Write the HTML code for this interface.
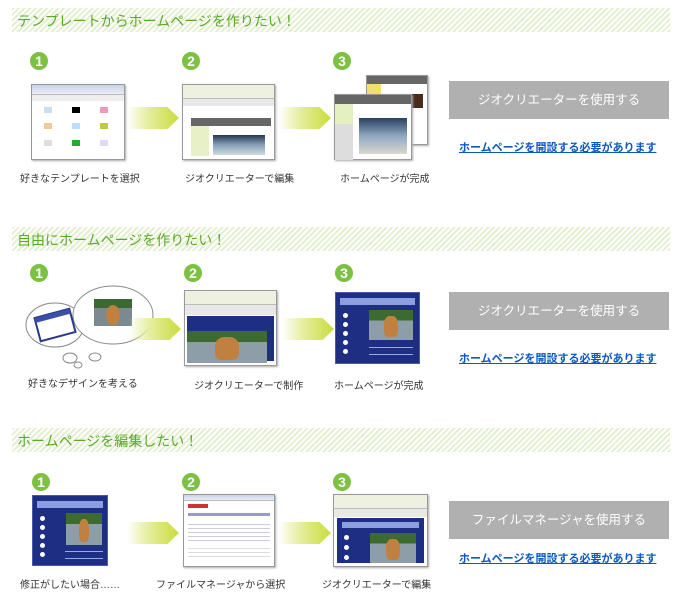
<!DOCTYPE html>
<html><head><meta charset="utf-8"><style>
*{margin:0;padding:0;box-sizing:border-box}
body{width:700px;height:615px;background:#fff;position:relative;overflow:hidden;font-family:"Liberation Sans","Noto Sans CJK JP",sans-serif}
.a{position:absolute}
.band{position:absolute;left:12px;width:658px;height:24px;background:repeating-linear-gradient(135deg,#e3efcf 0 2px,#fff 2px 4px)}
.band span{position:absolute;left:5px;top:3px;font-size:14px;color:#5aa92a}
.num{position:absolute;width:18px;height:18px;border-radius:50%;background:#7cc141;color:#fff;font-weight:bold;font-size:14px;line-height:18px;text-align:center}
.arr{position:absolute;width:52px;height:22px;background:linear-gradient(90deg,rgba(220,232,160,0) 0%,#e6eea0 40%,#c9dc3c 100%);clip-path:polygon(0 0,78% 0,100% 50%,78% 100%,0 100%)}
.lbl{position:absolute;font-size:10px;color:#333;white-space:nowrap}
.btn{position:absolute;left:449px;width:220px;height:38px;background:#b0b0b0;color:#fff;font-size:12.5px;line-height:38px;text-align:center}
.lnk{position:absolute;left:459px;font-size:11px;font-weight:bold;color:#0a58c0;text-decoration:underline;white-space:nowrap}
.win{position:absolute;border:1px solid #999;background:#fff;box-shadow:1px 1px 2px #aaa}
.win .tb{height:10px;background:linear-gradient(#c8d4e8,#e8ecf4);border-bottom:1px solid #bbb}
.blue{position:absolute;background:#1e2e82;border:1px solid #4a5aa8}
.nav{position:absolute;left:4px;right:4px;top:5px;height:7px;background:#8a9ee0}
.dot{position:absolute;width:5px;height:5px;border-radius:50%;background:#fff;left:7px}
.dog{position:absolute;background:linear-gradient(#3c6a30 0 35%,#8e9ea8 35%);}
.dog::after{content:"";position:absolute;left:35%;top:20%;width:30%;height:70%;background:#c08040;border-radius:40% 40% 30% 30%}
.hl{position:absolute;height:1px;background:#9aa8e0}
</style></head><body>

<div class="band" style="top:8px"><span>テンプレートからホームページを作りたい！</span></div>
<div class="num" style="left:30px;top:52px">1</div>
<div class="num" style="left:182px;top:52px">2</div>
<div class="num" style="left:333px;top:52px">3</div>
<div class="win" style="left:31px;top:84px;width:94px;height:76px"><div class="tb"></div><div style="height:6px;background:#eee"></div>
<div class="a" style="left:12px;top:22px;width:8px;height:6px;background:#cde"></div><div class="a" style="left:40px;top:22px;width:8px;height:6px;background:#000"></div><div class="a" style="left:68px;top:22px;width:8px;height:6px;background:#e9b"></div>
<div class="a" style="left:12px;top:38px;width:8px;height:6px;background:#ec9"></div><div class="a" style="left:40px;top:38px;width:8px;height:6px;background:#bdf"></div><div class="a" style="left:68px;top:38px;width:8px;height:6px;background:#bc4"></div>
<div class="a" style="left:12px;top:55px;width:8px;height:6px;background:#ddd"></div><div class="a" style="left:40px;top:55px;width:8px;height:6px;background:#2a3"></div><div class="a" style="left:68px;top:55px;width:8px;height:6px;background:#dde"></div></div>
<div class="arr" style="left:127px;top:107px"></div>
<div class="win" style="left:182px;top:84px;width:93px;height:76px"><div class="tb" style="height:14px;background:#eef0e0"></div><div style="height:7px;background:#e8e8e8"></div>
<div class="a" style="left:8px;top:33px;width:80px;height:8px;background:#666"></div><div class="a" style="left:8px;top:41px;width:18px;height:30px;background:#e8f0c8"></div><div class="a" style="left:30px;top:50px;width:52px;height:20px;background:linear-gradient(#223850,#8aa0b8,#cdd)"></div></div>
<div class="arr" style="left:279px;top:107px"></div>
<div class="win" style="left:366px;top:75px;width:62px;height:70px"><div style="height:8px;background:#666"></div><div class="a" style="left:28px;top:18px;width:28px;height:14px;background:#4a2a1a"></div><div class="a" style="left:0;top:8px;width:14px;height:30px;background:#f0e070"></div></div>
<div class="win" style="left:334px;top:94px;width:78px;height:66px"><div style="height:9px;background:#666"></div><div class="a" style="left:0;top:9px;width:18px;height:20px;background:#e4f0c0"></div><div class="a" style="left:0;top:29px;width:18px;height:36px;background:#ddd"></div><div class="a" style="left:24px;top:23px;width:48px;height:36px;background:linear-gradient(#2a4060,#90a8c0,#d8d8d0)"></div></div>
<div class="lbl" style="left:20px;top:170px">好きなテンプレートを選択</div>
<div class="lbl" style="left:185px;top:170px">ジオクリエーターで編集</div>
<div class="lbl" style="left:340px;top:170px">ホームページが完成</div>
<div class="btn" style="top:81px">ジオクリエーターを使用する</div>
<div class="lnk" style="top:139px">ホームページを開設する必要があります</div>

<div class="band" style="top:227px"><span>自由にホームページを作りたい！</span></div>
<div class="num" style="left:30px;top:264px">1</div>
<div class="num" style="left:184px;top:264px">2</div>
<div class="num" style="left:335px;top:264px">3</div>
<svg class="a" style="left:25px;top:285px" width="130" height="85">
<ellipse cx="30" cy="40" rx="29" ry="22" fill="#fff" stroke="#888"/>
<ellipse cx="88" cy="30" rx="40" ry="29" fill="#fff" stroke="#888"/>
<ellipse cx="45" cy="73" rx="7" ry="5" fill="#fff" stroke="#888"/>
<ellipse cx="53" cy="80" rx="4" ry="3" fill="#fff" stroke="#888"/>
<ellipse cx="70" cy="72" rx="6" ry="4" fill="#fff" stroke="#888"/>
<g transform="rotate(-15 30 40)"><rect x="12" y="28" width="36" height="24" fill="#fff" stroke="#2a3a8a" stroke-width="2"/><rect x="12" y="28" width="36" height="5" fill="#3a50a8"/></g>
<rect x="69" y="14" width="38" height="27" fill="#7a8a90"/><rect x="69" y="14" width="38" height="9" fill="#3a6a30"/><ellipse cx="88" cy="30" rx="7" ry="10" fill="#c08040"/>
</svg>
<div class="arr" style="left:129px;top:318px"></div>
<div class="win" style="left:184px;top:290px;width:93px;height:76px"><div class="tb" style="height:14px;background:#eef0e0"></div><div style="height:10px;background:#e8e8e8"></div><div class="a" style="left:2px;top:25px;right:2px;bottom:4px;background:#1e2e82"></div><div class="dog a" style="left:2px;top:40px;width:80px;height:32px"></div></div>
<div class="arr" style="left:282px;top:318px"></div>
<div class="blue" style="left:335px;top:292px;width:85px;height:72px"><div class="nav"></div>
<div class="dot" style="top:20px"></div><div class="dot" style="top:29px"></div><div class="dot" style="top:38px"></div><div class="dot" style="top:47px"></div><div class="dot" style="top:56px"></div>
<div class="dog" style="left:33px;top:17px;width:44px;height:30px"></div><div class="hl" style="left:33px;width:44px;top:54px"></div><div class="hl" style="left:33px;width:44px;top:61px"></div></div>
<div class="lbl" style="left:28px;top:375px">好きなデザインを考える</div>
<div class="lbl" style="left:194px;top:377px">ジオクリエーターで制作</div>
<div class="lbl" style="left:334px;top:377px">ホームページが完成</div>
<div class="btn" style="top:292px">ジオクリエーターを使用する</div>
<div class="lnk" style="top:350px">ホームページを開設する必要があります</div>

<div class="band" style="top:428px"><span>ホームページを編集したい！</span></div>
<div class="num" style="left:32px;top:473px">1</div>
<div class="num" style="left:182px;top:473px">2</div>
<div class="num" style="left:333px;top:473px">3</div>
<div class="blue" style="left:32px;top:495px;width:76px;height:71px"><div class="nav"></div>
<div class="dot" style="top:20px"></div><div class="dot" style="top:29px"></div><div class="dot" style="top:38px"></div><div class="dot" style="top:47px"></div><div class="dot" style="top:56px"></div>
<div class="dog" style="left:33px;top:17px;width:36px;height:32px"></div><div class="hl" style="left:32px;width:38px;top:55px"></div><div class="hl" style="left:32px;width:38px;top:62px"></div></div>
<div class="arr" style="left:127px;top:522px"></div>
<div class="win" style="left:183px;top:494px;width:92px;height:73px"><div class="tb" style="height:6px"></div>
<div class="a" style="left:4px;top:9px;width:20px;height:4px;background:#c33"></div><div class="a" style="left:4px;top:18px;right:4px;height:3px;background:#99c"></div>
<div class="a" style="left:4px;top:26px;right:4px;height:20px;background:repeating-linear-gradient(#fff 0 3px,#ccd 3px 4px)"></div>
<div class="a" style="left:4px;top:50px;right:4px;height:14px;background:repeating-linear-gradient(#fff 0 3px,#ddd 3px 4px)"></div></div>
<div class="arr" style="left:279px;top:522px"></div>
<div class="win" style="left:333px;top:494px;width:95px;height:73px"><div class="tb" style="height:14px;background:#eef0e0"></div><div style="height:8px;background:#e8e8e8"></div>
<div class="a" style="left:3px;top:23px;right:3px;bottom:3px;background:#1e2e82"></div><div class="a" style="left:8px;top:27px;right:8px;height:6px;background:#8a9ee0"></div>
<div class="dot" style="top:40px;left:10px"></div><div class="dot" style="top:50px;left:10px"></div><div class="dot" style="top:60px;left:10px"></div>
<div class="dog" style="left:36px;top:38px;width:46px;height:30px"></div></div>
<div class="lbl" style="left:20px;top:576px">修正がしたい場合……</div>
<div class="lbl" style="left:156px;top:576px">ファイルマネージャから選択</div>
<div class="lbl" style="left:322px;top:576px">ジオクリエーターで編集</div>
<div class="btn" style="top:501px">ファイルマネージャを使用する</div>
<div class="lnk" style="top:550px">ホームページを開設する必要があります</div>
</body></html>
